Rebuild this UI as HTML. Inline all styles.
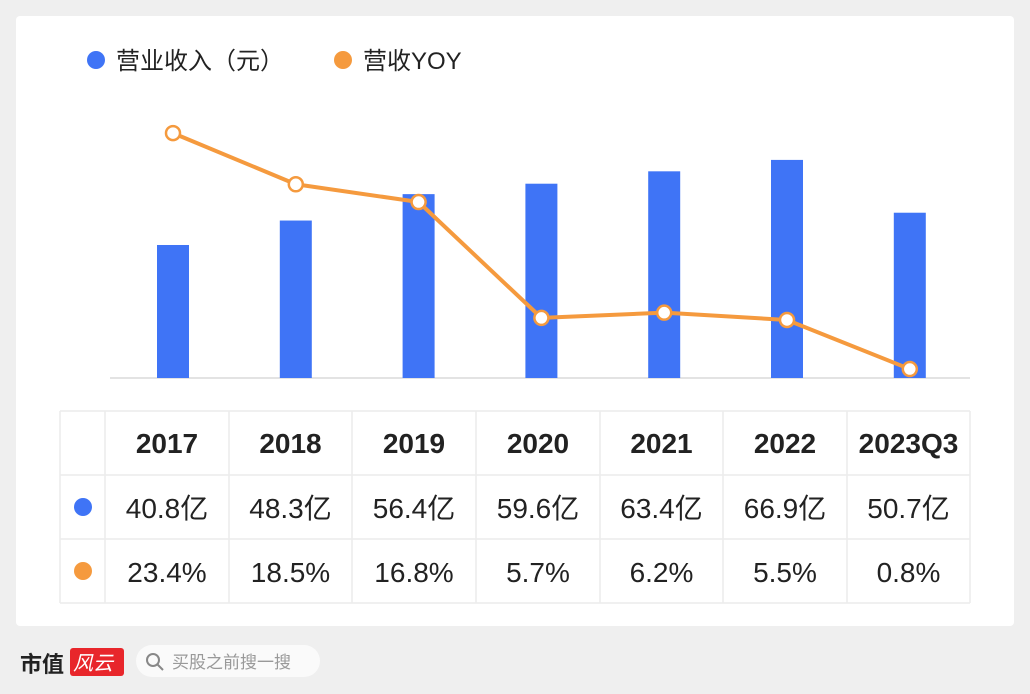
<!DOCTYPE html>
<html><head><meta charset="utf-8"><style>
body{margin:0;width:1030px;height:694px;background:#efefef;font-family:"Liberation Sans","Noto Sans CJK SC",sans-serif;overflow:hidden;position:relative}
#card{position:absolute;left:16px;top:16px;width:998px;height:610px;background:#fff;border-radius:4px}
svg text{font-family:"Liberation Sans","Noto Sans CJK SC",sans-serif}
</style></head><body>
<div id="card"></div>
<svg id="chart" width="1030" height="694" style="position:absolute;left:0;top:0">
<g>
<circle cx="96" cy="60" r="9" fill="#3f74f6"/>
<text x="116" y="69" font-size="24" fill="#222">营业收入（元）</text>
<circle cx="343" cy="60" r="9" fill="#f59a3e"/>
<text x="363" y="69" font-size="24" fill="#222">营收YOY</text>
</g>
<line x1="110" y1="378" x2="970" y2="378" stroke="#e3e3e3" stroke-width="2"/>
<g id="bars"></g><g id="line"></g><g id="table"></g>
<g>
<text x="20" y="672" font-size="22" font-weight="bold" fill="#222">市值</text>
<rect x="70" y="648" width="54" height="28" rx="3" fill="#e8262b"/>
<text x="73" y="670" font-size="20" fill="#fff" font-style="italic">风云</text>
<rect x="136" y="645" width="184" height="32" rx="16" fill="#fafafa"/>
<circle cx="153" cy="660" r="6" fill="none" stroke="#888" stroke-width="2"/>
<line x1="157" y1="664" x2="163" y2="670" stroke="#888" stroke-width="2"/>
<text x="172" y="668" font-size="17" fill="#999">买股之前搜一搜</text>
</g>
</svg>
<script>
const categories=["2017","2018","2019","2020","2021","2022","2023Q3"];
const revenue=[40.8,48.3,56.4,59.6,63.4,66.9,50.7];
const yoy=[23.4,18.5,16.8,5.7,6.2,5.5,0.8];
const revenueLabels=["40.8亿","48.3亿","56.4亿","59.6亿","63.4亿","66.9亿","50.7亿"];
const yoyLabels=["23.4%","18.5%","16.8%","5.7%","6.2%","5.5%","0.8%"];
const NS="http://www.w3.org/2000/svg";
const xs=i=>173+i*122.8;
const yBar=v=>378-v*3.26;
const yLine=v=>377.4-v*10.44;
function mk(tag,attrs,parent){const e=document.createElementNS(NS,tag);for(const k in attrs)e.setAttribute(k,attrs[k]);parent.appendChild(e);return e;}
const bars=document.getElementById('bars'),line=document.getElementById('line'),table=document.getElementById('table');
revenue.forEach((v,i)=>{const r=mk('rect',{x:xs(i)-16,y:yBar(v),width:32,height:378-yBar(v),fill:'#3f74f6'},bars);

});
const pts=yoy.map((v,i)=>xs(i)+','+yLine(v)).join(' ');
const pl=mk('polyline',{points:pts,fill:'none',stroke:'#f59a3e','stroke-width':4,'stroke-linejoin':'round'},line);


yoy.forEach((v,i)=>{const c=mk('circle',{cx:xs(i),cy:yLine(v),r:7,fill:'#fff',stroke:'#f59a3e','stroke-width':2.5},line);

});
// table
const colX=[60,105,229,352,476,600,723,847,970],rowY=[411,475,539,603];
colX.forEach(x=>mk('line',{x1:x,y1:411,x2:x,y2:603,stroke:'#ececec','stroke-width':1.5},table));
rowY.forEach(y=>mk('line',{x1:60,y1:y,x2:970,y2:y,stroke:'#ececec','stroke-width':1.5},table));
const d1=mk('circle',{cx:83,cy:507,r:9,fill:'#3f74f6'},table);


const d2=mk('circle',{cx:83,cy:571,r:9,fill:'#f59a3e'},table);


categories.forEach((c,i)=>{const cx=(colX[i+1]+colX[i+2])/2;
const t=mk('text',{x:cx,y:453,'text-anchor':'middle','font-size':28,'font-weight':'bold',fill:'#222'},table);t.textContent=c;


const a=mk('text',{x:cx,y:518,'text-anchor':'middle','font-size':28,fill:'#222'},table);a.textContent=revenueLabels[i];


const b=mk('text',{x:cx,y:582,'text-anchor':'middle','font-size':28,fill:'#222'},table);b.textContent=yoyLabels[i];

});
</script>
</body></html>
